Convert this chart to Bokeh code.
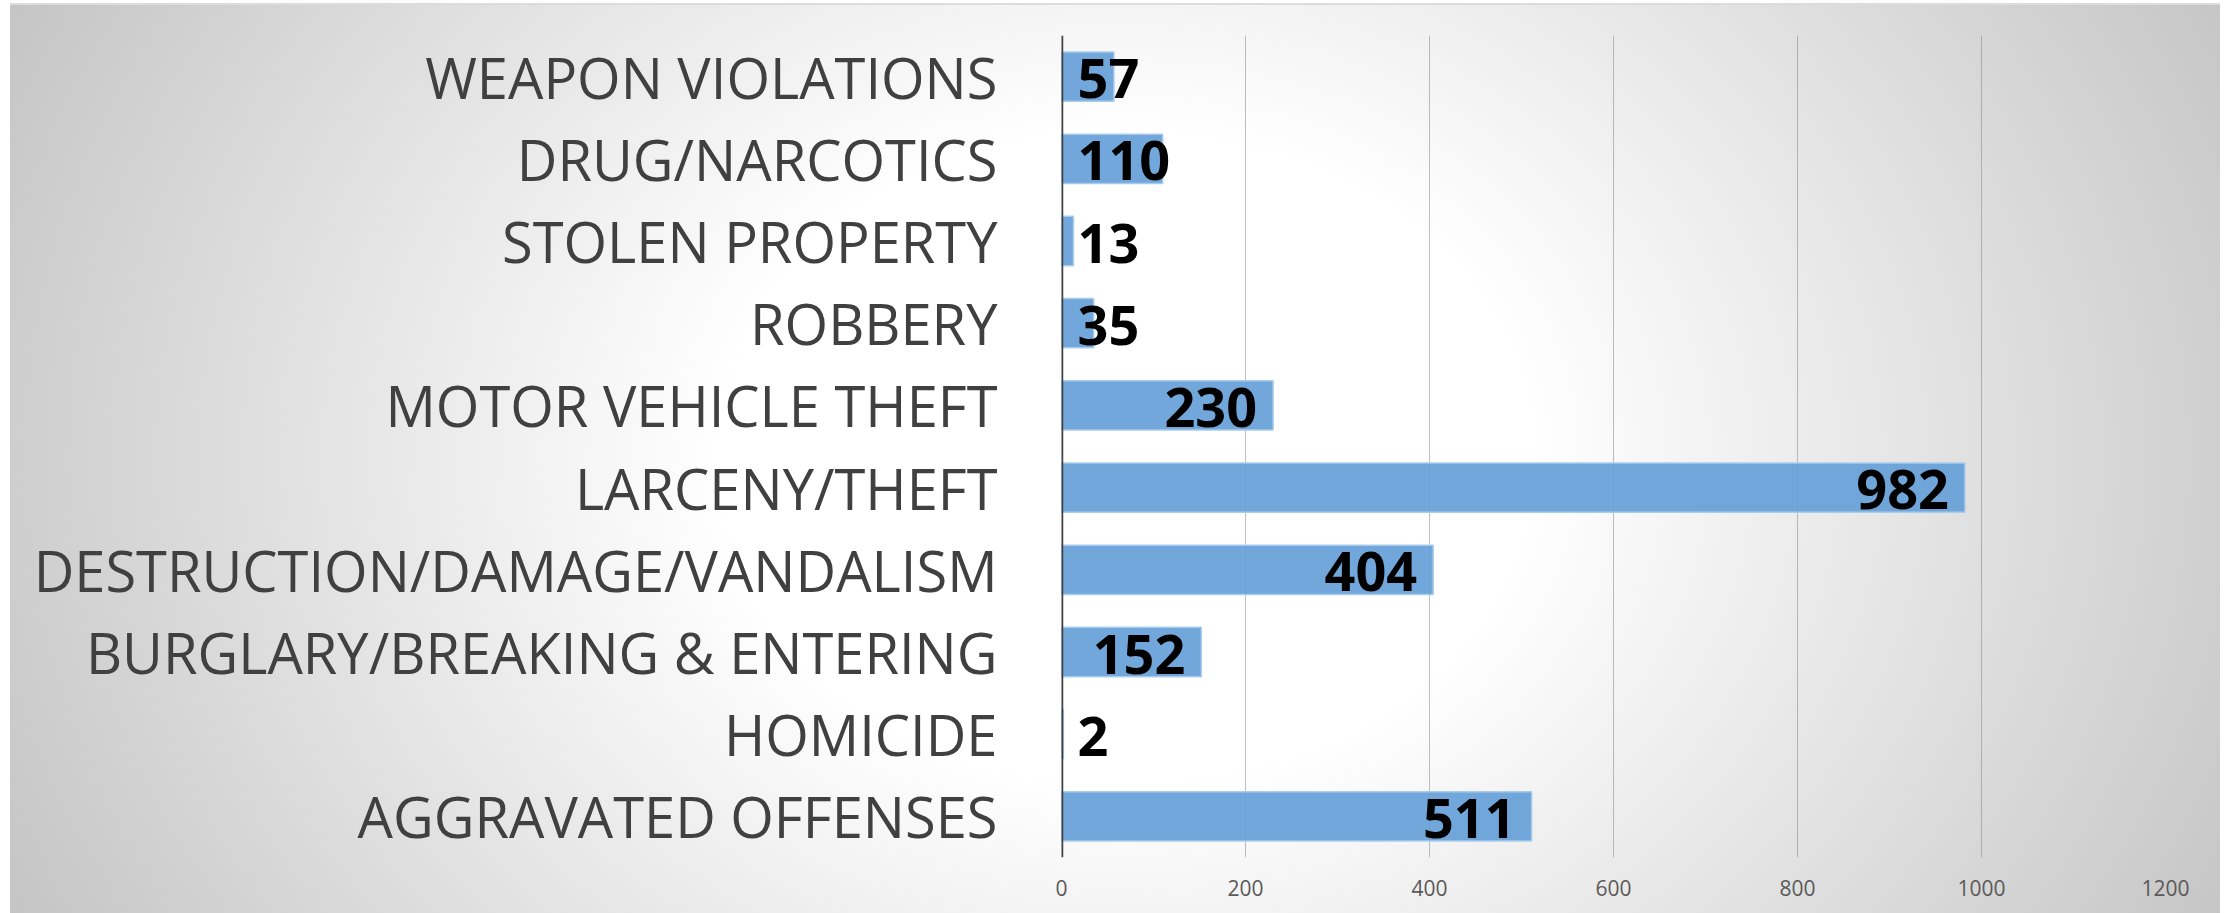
from bokeh.plotting import figure
from bokeh.models import FactorRange, Range1d, FixedTicker, Span, ColumnDataSource
from bokeh.core.properties import value
from bokeh.embed import file_html
from bokeh.resources import INLINE

categories = [
    "WEAPON VIOLATIONS",
    "DRUG/NARCOTICS",
    "STOLEN PROPERTY",
    "ROBBERY",
    "MOTOR VEHICLE THEFT",
    "LARCENY/THEFT",
    "DESTRUCTION/DAMAGE/VANDALISM",
    "BURGLARY/BREAKING & ENTERING",
    "HOMICIDE",
    "AGGRAVATED OFFENSES",
]
counts = [57, 110, 13, 35, 230, 982, 404, 152, 2, 511]
x_ticks = [0, 200, 400, 600, 800, 1000, 1200]

W, H = 2220, 913
LEFT, RIGHT, TOP, BOTTOM = 1061, 55, 35, 56
frame_w = W - LEFT - RIGHT
x_max = 1200
px_per_unit = frame_w / x_max

p = figure(
    width=W, height=H,
    y_range=FactorRange(factors=list(reversed(categories)), range_padding=0),
    x_range=Range1d(0, x_max),
    output_backend="svg", toolbar_location=None,
    min_border_left=LEFT, min_border_right=RIGHT,
    min_border_top=TOP, min_border_bottom=BOTTOM,
)
p.styles = {
    "background-image": (
        "linear-gradient(#dcdcdc, #dcdcdc), "
        "radial-gradient(1300px 1048px at 1115px 454px, #ffffff 0%, #ffffff 30.8%, #c1c1c1 100%)"
    ),
    "background-repeat": "no-repeat, no-repeat",
    "background-position": "10px 3px, 10px 4px",
    "background-size": "2210px 2px, 2210px 909px",
}
p.background_fill_color = None
p.border_fill_color = None
p.outline_line_color = None

# bars
src = ColumnDataSource(dict(cat=categories, val=counts))
p.hbar(y="cat", right="val", left=0, height=0.6, source=src,
       fill_color="#65a0d7", fill_alpha=0.92,
       line_color="#a9cbec", line_width=1.5)

# data labels (inside end, or at the base when the bar is too short)
digit_w = 31
inset = 16
aligns, xs, offs = [], [], []
for v in counts:
    need = len(str(v)) * digit_w + 2 * inset + 6
    if v * px_per_unit >= need:
        aligns.append("right"); xs.append(v); offs.append(-inset)
    else:
        aligns.append("left"); xs.append(0); offs.append(inset)
lsrc = ColumnDataSource(dict(cat=categories, x=xs, txt=[str(v) for v in counts],
                             align=aligns, off=offs))
p.text(x="x", y="cat", text="txt", source=lsrc, text_align="align",
       x_offset="off", y_offset=2, text_baseline="middle",
       text_font=value("Open Sans"), text_font_style="bold",
       text_font_size="54px", text_color="#000000")

# zero axis line
p.add_layout(Span(location=0, dimension="height", line_color="#404040", line_width=3.5))

# grid
p.ygrid.grid_line_color = None
p.xgrid.ticker = FixedTicker(ticks=x_ticks)
p.xgrid.grid_line_color = "#7f7f7f"
p.xgrid.grid_line_alpha = 0.5
p.xgrid.grid_line_width = 1

# x axis
p.xaxis.ticker = FixedTicker(ticks=x_ticks)
p.xaxis.axis_line_color = None
p.xaxis.major_tick_line_color = None
p.xaxis.minor_tick_line_color = None
p.xaxis.major_label_text_font = "Open Sans"
p.xaxis.major_label_text_font_size = "21px"
p.xaxis.major_label_text_color = "#595959"
p.xaxis.major_label_standoff = 16

# y axis
p.yaxis.axis_line_color = None
p.yaxis.major_tick_line_color = None
p.yaxis.minor_tick_line_color = None
p.yaxis.major_label_text_font = "Open Sans"
p.yaxis.major_label_text_font_size = "56px"
p.yaxis.major_label_text_color = "#404040"
p.yaxis.major_label_standoff = 58

open("out.html", "w").write(file_html(p, INLINE))
